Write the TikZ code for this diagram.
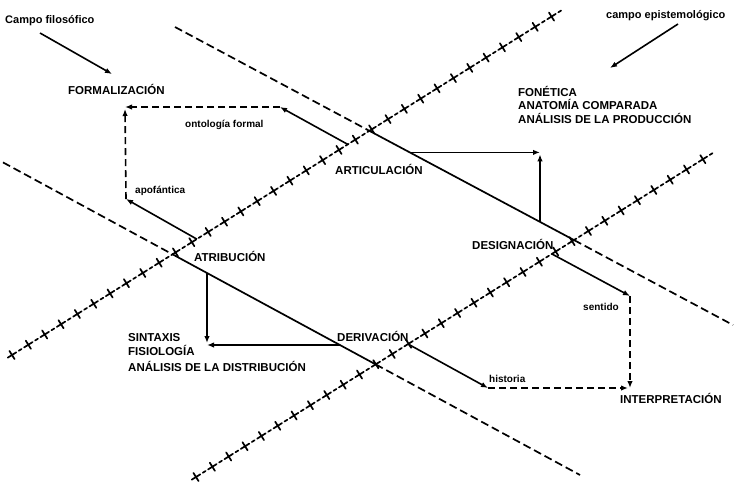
\documentclass[tikz,border=0pt]{standalone}
\usepackage{fontspec}
\setmainfont{Liberation Sans}
\usetikzlibrary{arrows.meta,decorations.markings}
\newcommand\crossmk{\draw[line width=1.7pt,line cap=round] (-5pt,0) -- (5pt,0) (0,-4.8pt) -- (0,4.8pt) (8pt,0) -- (11.3pt,0);}
\begin{document}
\begin{tikzpicture}[x=1pt,y=-1pt,
  solidline/.style={line width=1.7pt},
  dashline/.style={line width=1.7pt,dash pattern=on 8pt off 4pt},
  crossline/.style={decorate,decoration={markings,mark=between positions 0 and 1 step 19.3pt with {\crossmk}}},
  conn/.style={line width=1.6pt},
  dconn/.style={line width=1.6pt,dash pattern=on 7pt off 4pt},
  arr/.style={-{Latex[length=7pt,width=5.5pt]}},
  caps/.style={font=\fontsize{11.5}{12}\selectfont\bfseries,inner sep=0pt,anchor=base west},
  small/.style={font=\fontsize{10}{11}\selectfont\bfseries,inner sep=0pt,anchor=base west}
]
\fill[white] (0,0) rectangle (740,483);
\useasboundingbox (0,0) rectangle (740,483);

% main oblique lines
\coordinate (L1s) at (175,27);
\coordinate (L1a) at (369.7,131);
\coordinate (L1b) at (574.1,240.1);
\coordinate (L1e) at (733,325);
\coordinate (L2s) at (3,162.4);
\coordinate (L2a) at (172.7,254.4);
\coordinate (L2b) at (375.7,364.4);
\coordinate (L2e) at (580,475);
\draw[dashline] (L1s) -- (L1a);
\draw[solidline] (L1a) -- (L1b);
\draw[dashline] (L1b) -- (L1e);
\draw[dashline] (L2s) -- (L2a);
\draw[solidline] (L2a) -- (L2b);
\draw[dashline] (L2b) -- (L2e);

% crossed lines
\coordinate (As) at (12,355);
\coordinate (Ae) at (562,10);
\coordinate (Bs) at (196,477);
\coordinate (Be) at (716,151);
\path[crossline] (As) -- (Ae);
\path[crossline] (Bs) -- (Be);

% labels
\node[caps] (formal) at (68,94) {FORMALIZACIÓN};
\node[caps] (fon) at (518,96) {FONÉTICA};
\node[caps] (anat) at (518,109) {ANATOMÍA COMPARADA};
\node[caps] (anprod) at (518,123) {ANÁLISIS DE LA PRODUCCIÓN};
\node[caps] (artic) at (335,174) {ARTICULACIÓN};
\node[caps] (desig) at (472,249) {DESIGNACIÓN};
\node[caps] (atrib) at (194,261) {ATRIBUCIÓN};
\node[caps] (deriv) at (337,341) {DERIVACIÓN};
\node[caps] (sint) at (128,341) {SINTAXIS};
\node[caps] (fisio) at (128,355) {FISIOLOGÍA};
\node[caps] (andist) at (128,371) {ANÁLISIS DE LA DISTRIBUCIÓN};
\node[caps] (interp) at (620,403) {INTERPRETACIÓN};
\node[small] (onto) at (185,127) {ontología formal};
\node[small] (apof) at (135,193) {apofántica};
\node[small] (sent) at (583,310) {sentido};
\node[small] (hist) at (489,382) {historia};
\node[small,font=\fontsize{11}{12}\selectfont\bfseries] (cfil) at (5,23) {Campo filosófico};
\node[small,font=\fontsize{11}{12}\selectfont\bfseries] (cepi) at (606,18) {campo epistemológico};

% header arrows
\coordinate (cfA) at (40,33);
\coordinate (cfB) at (112,74);
\draw[conn,arr] (cfA) -- (cfB);
\coordinate (ceA) at (678,24);
\coordinate (ceB) at (610,68);
\draw[conn,arr] (ceA) -- (ceB);

% articulacion -> designacion box
\coordinate (P1) at (410,152.4);
\coordinate (C1) at (540,152.4);
\coordinate (P2) at (540,221.9);
\draw[conn,arr] (P1) -- (C1);
\draw[conn,arr,shorten >=2pt] (P2) -- (C1);

% atribucion -> derivacion box
\coordinate (Q1) at (207,273);
\coordinate (C2) at (207,345);
\coordinate (Q2) at (340,345);
\draw[conn,arr,shorten >=2pt] (Q1) -- (C2);
\draw[conn,arr] (Q2) -- (C2);

% to formalizacion
\coordinate (O1) at (348,144.5);
\coordinate (B1) at (280,107);
\coordinate (F) at (125,107);
\coordinate (O2) at (197,239.2);
\coordinate (B2) at (126,199);
\draw[conn,arr] (O1) -- (B1);
\draw[dconn,arr] (B1) -- (F);
\draw[conn,arr] (O2) -- (B2);
\draw[dconn,arr,shorten >=2pt] (B2) -- (F);

% to interpretacion
\coordinate (S1) at (552,254);
\coordinate (B3) at (630,296);
\coordinate (I) at (630,388);
\coordinate (H1) at (408,344);
\coordinate (B4) at (488,388);
\draw[conn,arr] (S1) -- (B3);
\draw[dconn,arr] (B3) -- (I);
\draw[conn,arr] (H1) -- (B4);
\draw[dconn,arr,shorten >=2pt] (B4) -- (I);
\end{tikzpicture}
\end{document}
